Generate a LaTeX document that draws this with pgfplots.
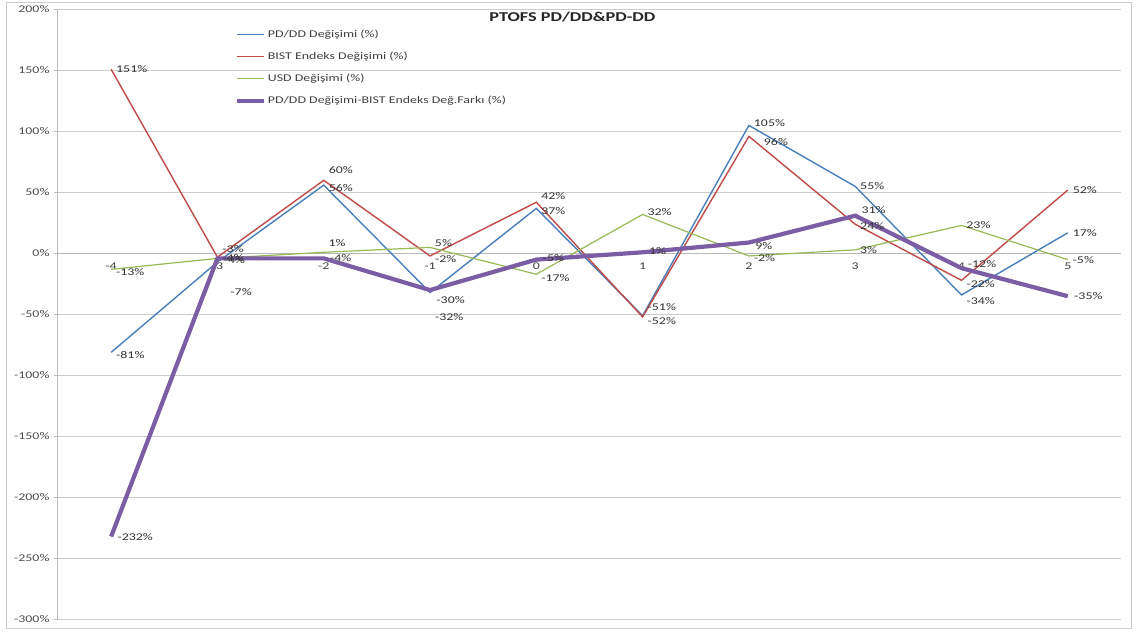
\documentclass[border=0pt]{standalone}
\usepackage{fontspec}
\setmainfont[FakeStretch=1.35]{Carlito}
\usepackage{pgfplots}
\usepackage{pgfplotstable}
\pgfplotsset{compat=1.18}
\definecolor{cblue}{HTML}{4A7EBB}
\definecolor{cred}{HTML}{BE4B48}
\definecolor{cgreen}{HTML}{98B954}
\definecolor{cpurple}{HTML}{7B5DA3}
\newcommand{\sm}{\fontsize{10.3}{12}\selectfont}
% x = period, y = change (%), dx/dy = label offset (pt)
\pgfplotstableread{
x y dx dy
-4 -81 0 -3
-3 -7 8 -30
-2 56 0 -3
-1 -32 0 -24
0 37 0 -3
1 -51 0 9
2 105 0 2
3 55 0 0
4 -34 0 -6
5 17 0 0
}\tblue
\pgfplotstableread{
x y dx dy
-4 151 0 0
-3 -3 0 8
-2 60 0 10
-1 -2 0 -3
0 42 0 6
1 -52 0 -4
2 96 10 -6
3 24 0 -2
4 -22 0 -4
5 52 0 0
}\tred
\pgfplotstableread{
x y dx dy
-4 -13 0 -3
-3 -4 0 0
-2 1 0 9
-1 5 0 4
0 -17 0 -4
1 32 0 2
2 -2 0 -2
3 3 0 0
4 23 0 0
5 -5 0 0
}\tgreen
\pgfplotstableread{
x y dx dy
-4 -232 0 0
-3 -4 0 -2
-2 -4 0 0
-1 -30 0 -10
0 -5 0 2
1 1 0 1
2 9 0 -4
3 31 0 6
4 -12 0 4
5 -35 0 0
}\tpurple
\begin{document}
\begin{tikzpicture}
\useasboundingbox (0,0) rectangle (1136pt,632pt);
\fill[white] (0,0) rectangle (1136pt,632pt);
\draw[gray!40, line width=1pt] (6pt,3pt) rectangle (1131pt,629pt);
\begin{axis}[
  at={(58pt,12.5pt)}, anchor=south west,
  scale only axis, width=1063pt, height=610pt,
  xmin=-4.5, xmax=5.5, ymin=-300, ymax=200, enlargelimits=false,
  axis x line=middle, axis y line=left, axis line style={-},
  x axis line style={gray!55, line width=0.8pt},
  y axis line style={gray!55, line width=1pt},
  /pgf/number format/assume math mode=true,
  xtick={-4,-3,-2,-1,0,1,2,3,4,5},
  xticklabels={-4,-3,-2,-1,0,1,2,3,4,5},
  major x tick style={draw=none},
  xticklabel style={font=\sm, text=black!75, anchor=north, yshift=-2pt},
  ytick={-300,-250,...,200},
  yticklabel={\pgfmathprintnumber{\tick}\%},
  yticklabel style={font=\sm, text=black!70, xshift=-1pt},
  major y tick style={gray!55},
  tick align=outside, major tick length=4pt,
  ymajorgrids, grid style={gray!40, line width=0.8pt},
  title={\textbf{PTOFS PD/DD\&PD-DD}},
  title style={at={(0.484,0.992)}, anchor=north, font=\fontsize{13.5}{15}\selectfont, text=black!85},
  legend style={at={(0.166,0.97)}, anchor=north west, draw=none, fill=none,
    font=\sm, text=black!75, row sep=9pt, inner sep=0pt, cells={anchor=west}},
  legend image code/.code={\draw[#1] (0pt,0pt) -- (27pt,0pt);},
  visualization depends on={\thisrow{dx} \as \ldx},
  visualization depends on={\thisrow{dy} \as \ldy},
  nodes near coords={\pgfmathprintnumber[fixed,precision=0]{\pgfplotspointmeta}\%},
  nodes near coords style={anchor=west, font=\sm, text=black!80,
    xshift=\ldx pt+1pt, yshift=\ldy pt},
]
\addplot[cblue, line width=1.4pt] table[x=x,y=y] {\tblue};
\addlegendentry{PD/DD Değişimi (\%)}
\addplot[cred, line width=1.4pt] table[x=x,y=y] {\tred};
\addlegendentry{BIST Endeks Değişimi (\%)}
\addplot[cgreen, line width=1.2pt] table[x=x,y=y] {\tgreen};
\addlegendentry{USD Değişimi (\%)}
\addplot[cpurple, line width=4.2pt] table[x=x,y=y] {\tpurple};
\addlegendentry{PD/DD Değişimi-BIST Endeks Değ.Farkı (\%)}
\end{axis}
\end{tikzpicture}
\end{document}
